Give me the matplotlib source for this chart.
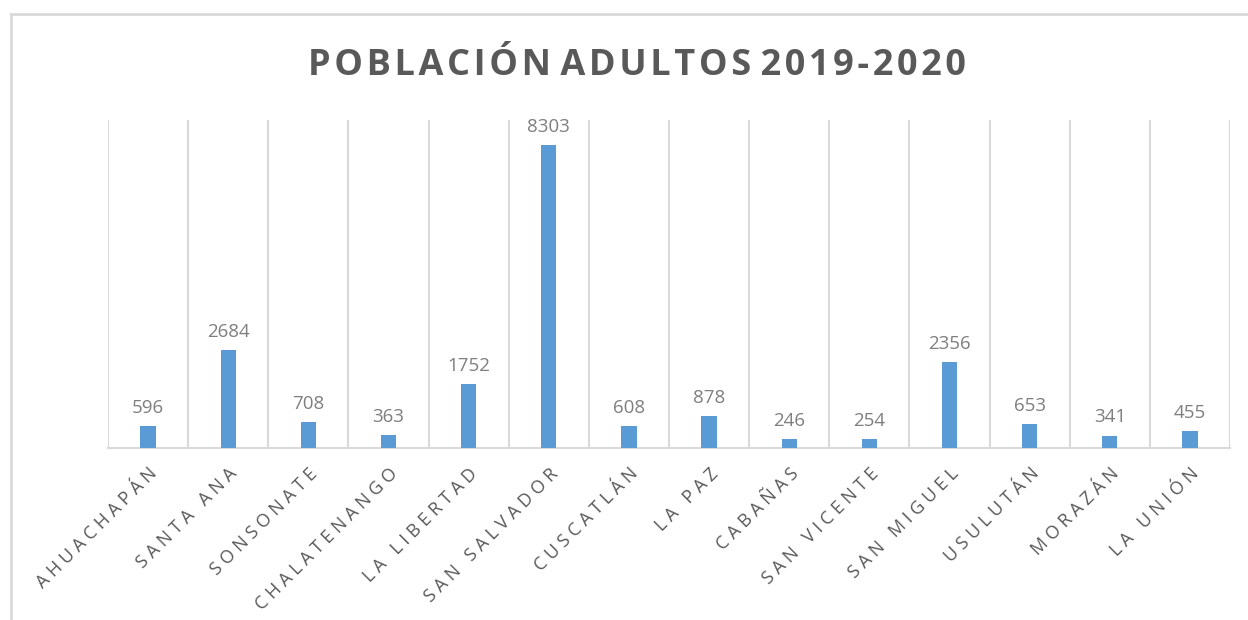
import matplotlib
matplotlib.use("Agg")
import matplotlib.pyplot as plt
from matplotlib.lines import Line2D

departamentos = ["AHUACHAPÁN", "SANTA ANA", "SONSONATE", "CHALATENANGO", "LA LIBERTAD",
                 "SAN SALVADOR", "CUSCATLÁN", "LA PAZ", "CABAÑAS", "SAN VICENTE",
                 "SAN MIGUEL", "USULUTÁN", "MORAZÁN", "LA UNIÓN"]
adultos = [596, 2684, 708, 363, 1752, 8303, 608, 878, 246, 254, 2356, 653, 341, 455]
titulo = "POBLACIÓN ADULTOS 2019-2020"

FONT = ["Open Sans", "DejaVu Sans"]
GRID = "#D9D9D9"


def espaciar(s, sep=" ", gap="   "):
    # excel-like letter spacing
    return gap.join(sep.join(w) for w in s.split(" "))


fig = plt.figure(figsize=(12.48, 6.2), dpi=100)
ax = fig.add_axes([108 / 1248, 1 - 448 / 620, 1122 / 1248, 328 / 620])

x = range(len(adultos))
bars = ax.bar(x, adultos, width=0.19, color="#5B9BD5", zorder=3)
for b, v in zip(bars, adultos):
    ax.text(b.get_x() + b.get_width() / 2, v + 250, str(v), ha="center", va="bottom",
            fontsize=13.5, color="#7F7F7F", family=FONT)

ax.set_xlim(-0.5, len(adultos) - 0.5)
ax.set_ylim(0, 9000)
for i in range(len(adultos) + 1):
    ax.axvline(i - 0.5, color=GRID, lw=1.5, zorder=1)

ax.set_yticks([])
ax.set_xticks(list(x))
ax.set_xticklabels([espaciar(d) for d in departamentos], rotation=45, ha="right",
                   rotation_mode="anchor", fontsize=13, color="#595959", family=FONT)
ax.tick_params(axis="x", length=0, pad=12)
for s in ["top", "left", "right"]:
    ax.spines[s].set_visible(False)
ax.spines["bottom"].set_color(GRID)
ax.spines["bottom"].set_linewidth(1.5)

fig.text(637 / 1248, 1 - 66 / 620, espaciar(titulo, "\u200a", " "), ha="center", va="center",
         fontsize=26, fontweight="bold", color="#595959", family=FONT)

# chart frame
fig.add_artist(Line2D([11 / 1248, 11 / 1248], [0, 1 - 14 / 620], transform=fig.transFigure,
                      color=GRID, lw=2))
fig.add_artist(Line2D([11 / 1248, 1], [1 - 14 / 620, 1 - 14 / 620], transform=fig.transFigure,
                      color=GRID, lw=2))

fig.savefig("out.png", dpi=100)
